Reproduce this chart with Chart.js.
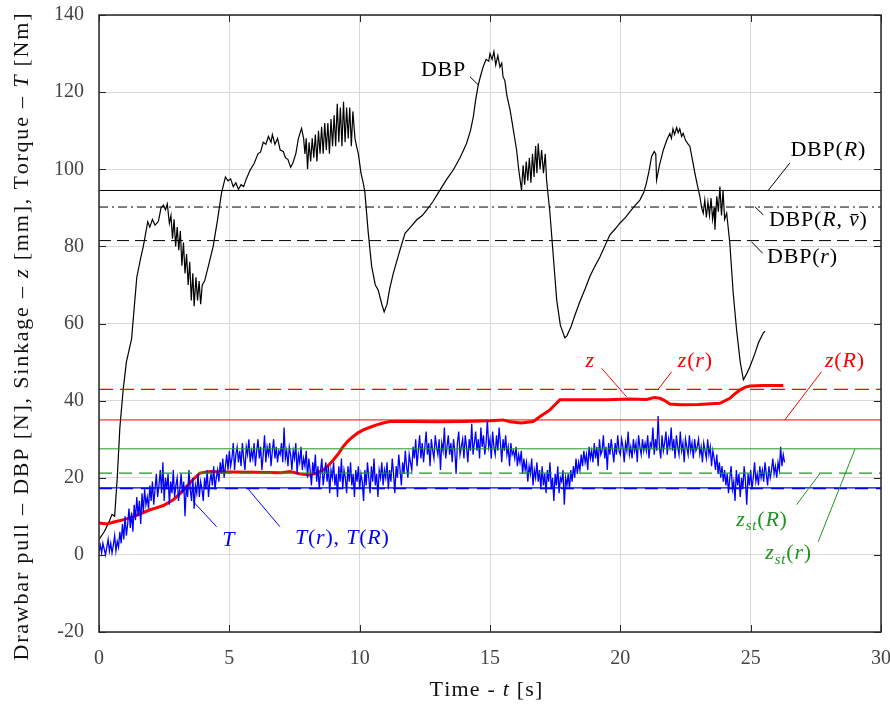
<!DOCTYPE html>
<html>
<head>
<meta charset="utf-8">
<script src="https://cdn.jsdelivr.net/npm/chart.js@4.4.1/dist/chart.umd.min.js"></script>
<style>
  html, body { margin: 0; padding: 0; background: #fff; }
</style>
</head>
<body>
<canvas id="chart" width="890" height="709"></canvas>
<script>
// axis ticks
const X_TICKS = [0, 5, 10, 15, 20, 25, 30];
const Y_TICKS = [-20, 0, 20, 40, 60, 80, 100, 120, 140];

// drawbar pull DBP [N]
const DBP_TIME = [
  0, 0.2, 0.35, 0.5, 0.6, 0.7, 0.8, 0.93, 1.05, 1.25, 1.45, 1.6, 1.7, 1.87, 1.95, 2.05, 2.15, 2.28, 2.38, 2.47,
  2.55, 2.62, 2.7, 2.76, 2.82, 2.88, 2.94, 3.0, 3.06, 3.12, 3.18, 3.24, 3.3, 3.36, 3.42, 3.48, 3.54, 3.6, 3.65, 3.72,
  3.78, 3.84, 3.9, 3.96, 4.05, 4.2, 4.38, 4.55, 4.7, 4.85, 4.95, 5.05, 5.15, 5.25, 5.35, 5.45, 5.55, 5.65, 5.8, 5.95,
  6.1, 6.2, 6.3, 6.4, 6.5, 6.6, 6.65, 6.75, 6.85, 6.95, 7.07, 7.15, 7.25, 7.35, 7.43, 7.55, 7.65, 7.77, 7.85, 7.9,
  7.95, 8.0, 8.06, 8.12, 8.18, 8.24, 8.3, 8.36, 8.42, 8.48, 8.54, 8.6, 8.66, 8.72, 8.78, 8.84, 8.9, 8.96, 9.02, 9.08,
  9.14, 9.2, 9.26, 9.32, 9.38, 9.44, 9.5, 9.56, 9.62, 9.68, 9.74, 9.82, 9.88, 9.95, 10.05, 10.15, 10.2, 10.33, 10.46, 10.6,
  10.71, 10.85, 10.94, 11.05, 11.15, 11.29, 11.5, 11.74, 11.95, 12.19, 12.4, 12.57, 12.8, 13.08, 13.35, 13.59, 13.85, 14.1, 14.25, 14.36,
  14.45, 14.55, 14.65, 14.74, 14.85, 14.95, 15.0, 15.08, 15.15, 15.22, 15.3, 15.38, 15.45, 15.5, 15.57, 15.65, 15.77, 15.9, 16.02, 16.1,
  16.21, 16.27, 16.33, 16.39, 16.45, 16.51, 16.57, 16.63, 16.69, 16.75, 16.8, 16.85, 16.92, 16.98, 17.05, 17.12, 17.17, 17.3, 17.43, 17.56,
  17.7, 17.87, 17.95, 18.1, 18.25, 18.45, 18.65, 18.83, 19.0, 19.22, 19.4, 19.6, 19.8, 19.98, 20.2, 20.37, 20.55, 20.75, 20.9, 21.0,
  21.1, 21.2, 21.3, 21.36, 21.39, 21.5, 21.65, 21.78, 21.9, 21.96, 22.02, 22.08, 22.16, 22.22, 22.28, 22.35, 22.41, 22.5, 22.6, 22.67,
  22.75, 22.86, 22.95, 23.05, 23.12, 23.18, 23.24, 23.3, 23.36, 23.42, 23.48, 23.54, 23.6, 23.63, 23.7, 23.76, 23.82, 23.88, 23.94, 24.0,
  24.08, 24.2, 24.33, 24.46, 24.6, 24.72, 24.85, 24.97, 25.15, 25.3, 25.48, 25.55
];
const DBP_VALUE = [
  4, 6, 8, 10.5, 10, 20, 33, 43, 50, 56, 72, 77, 80, 86.4, 85, 87, 85.5, 86.5, 90, 90.7,
  89.5, 91, 86, 88, 82, 87, 80, 85, 79, 84, 75, 81, 73, 78, 70, 76, 66, 73, 64.5, 72,
  66, 71, 65, 70, 71, 75, 80, 87, 93.8, 98, 97, 97.5, 95.5, 96.5, 94.8, 96, 95.5, 97.5, 99.8, 101.5,
  104, 104.5, 107, 106.5, 108.5, 107, 109, 106.5, 108, 105, 104.6, 103, 102.5, 100.5, 101.5, 104, 108, 110.6, 108, 104,
  108, 100, 107, 102, 108, 103, 109, 102, 110, 104, 111, 104, 112, 105, 112, 104, 113, 106, 114, 106,
  117, 107, 116, 106, 117.5, 107, 116, 108, 116, 106, 115, 108, 106, 104, 99, 96, 94, 83.5, 74.8, 70,
  68.7, 65, 63, 65, 69, 73, 78, 83.4, 85, 86.9, 88, 89.4, 91.5, 94.6, 97.5, 99.8, 103, 106.7, 110, 113.6,
  118, 121.9, 124.5, 126.6, 128.5, 128, 130, 128.5, 130.5, 127, 129.5, 126.5, 127.5, 124, 123, 119, 115.4, 110, 105, 100,
  94.6, 101, 96, 102, 97, 103, 96.5, 104, 98, 106, 99, 106.7, 100, 105, 99, 104, 97.2, 88.6, 77.3, 66,
  59.5, 56.3, 56.8, 59, 62, 65.7, 69, 72.2, 74.5, 77.3, 80, 83, 84.5, 86, 87.5, 89, 90.5, 92, 94, 96.4,
  99.5, 103.3, 104.6, 104, 97.2, 101, 105, 107.5, 109.3, 108, 110.5, 109, 110.8, 109.5, 110.5, 108.5, 109.3, 107.5, 106.5, 105.9,
  103, 99, 96, 93, 90, 88.6, 92, 87.5, 91.5, 88, 92.5, 87, 90, 84.3, 93, 89, 95.5, 88, 94.5, 87,
  88.6, 80.8, 67.9, 58.3, 50, 45.4, 47, 48.8, 52, 55, 57.5, 58
];

// sinkage z [mm]
const Z_TIME = [
  0, 0.3, 0.61, 1.0, 1.32, 1.65, 1.96, 2.2, 2.47, 2.85, 3.1, 3.36, 3.6, 3.87, 4.26, 5, 6, 7, 7.33, 7.7,
  8.09, 8.35, 8.6, 8.8, 8.99, 9.2, 9.37, 9.55, 9.75, 9.95, 10.14, 10.4, 10.65, 10.9, 11.16, 12, 13, 14, 15, 15.5,
  15.77, 16.2, 16.66, 16.95, 17.3, 17.5, 17.68, 18.45, 19.5, 20.37, 21.0, 21.3, 21.52, 21.7, 21.9, 22.3, 23, 23.82, 24.2, 24.4,
  24.6, 24.8, 24.97, 25.5, 26.25
];
const Z_VALUE = [
  8.3, 8.0, 8.6, 9.2, 9.9, 10.8, 11.7, 12.2, 12.8, 14.3, 15.8, 17.7, 19.5, 21.2, 21.6, 21.5, 21.4, 21.3, 21.6, 21.0,
  20.7, 21.2, 22.0, 23.2, 24.6, 26.4, 28.1, 29.5, 30.7, 31.7, 32.4, 33.1, 33.7, 34.2, 34.6, 34.6, 34.5, 34.6, 34.8, 35.0,
  34.5, 34.2, 34.6, 36, 37.6, 39, 40.2, 40.2, 40.2, 40.4, 40.3, 40.8, 40.6, 40, 39.1, 38.9, 39, 39.3, 40.6, 41.8,
  42.8, 43.5, 43.8, 43.9, 43.9
];

// torque T [Nm], one value every TORQUE_DT seconds from t = 0 (one row per second)
const TORQUE_DT = 0.05;
const TORQUE_VALUE = [
  1, 2.5, 0.5, 3, 1.5, 0, 2, 4, 1, 3, 0.5, 2.5, 5, 1, 3.5, 2, 6, 3, 8, 4,
  10, 5, 8, 12, 7, 11, 6, 13, 9, 15, 10, 14, 8, 16, 11, 17, 13, 15, 12, 18,
  14, 19, 13, 17, 21, 15, 18, 22, 16, 24, 14, 20, 17, 21, 13, 19, 16, 22, 15, 18,
  20, 14, 17, 21, 16, 19, 10, 18, 15, 22, 17, 14, 20, 12, 18, 16, 21, 15, 19, 17,
  14, 20, 17, 22, 15, 19, 21, 18, 23, 17, 20, 22, 19, 24, 21, 25, 20, 23, 26, 22,
  27, 23, 25, 29, 22, 26, 28, 24, 27, 23, 29, 25, 22, 28, 26, 30, 24, 27, 25, 29,
  23, 27, 30, 25, 28, 22, 26, 31, 24, 28, 26, 29, 23, 27, 30, 25, 28, 24, 27, 26,
  29, 24, 33, 25, 27, 23, 28, 26, 22, 27, 25, 29, 21, 26, 24, 28, 22, 25, 23, 27,
  20, 25, 22, 18, 24, 21, 26, 19, 23, 17, 22, 25, 18, 21, 24, 19, 23, 16, 22, 20,
  24, 18, 21, 15, 23, 19, 25, 17, 22, 20, 16, 23, 19, 24, 18, 21, 15, 22, 19, 23,
  17, 21, 19, 14, 22, 18, 24, 20, 16, 23, 19, 25, 18, 21, 15, 22, 20, 24, 18, 22,
  20, 24, 17, 22, 19, 25, 21, 16, 23, 20, 26, 22, 18, 24, 21, 27, 23, 20, 26, 24,
  22, 28, 25, 30, 23, 27, 31, 25, 29, 24, 28, 32, 26, 29, 23, 30, 27, 25, 31, 28,
  26, 30, 22, 29, 27, 33, 25, 28, 31, 26, 29, 24, 30, 27, 21, 29, 32, 26, 28, 30,
  25, 31, 28, 24, 30, 27, 34, 26, 29, 32, 27, 30, 25, 33, 28, 31, 26, 29, 35, 28,
  30, 25, 32, 28, 26, 31, 27, 33, 29, 24, 30, 27, 31, 26, 28, 23, 29, 26, 27, 25,
  28, 23, 26, 24, 27, 21, 25, 22, 24, 19, 23, 21, 25, 18, 22, 20, 24, 19, 22, 17,
  23, 18, 21, 16, 22, 19, 24, 17, 20, 14, 21, 18, 23, 16, 20, 19, 22, 13, 20, 18,
  21, 17, 22, 19, 23, 20, 25, 21, 24, 22, 26, 23, 27, 24, 26, 22, 28, 25, 27, 24,
  29, 25, 28, 23, 30, 26, 27, 31, 25, 28, 22, 29, 26, 30, 27, 24, 29, 26, 31, 27,
  26, 30, 28, 24, 29, 27, 32, 26, 28, 25, 30, 27, 29, 24, 31, 28, 26, 30, 27, 29,
  27, 31, 25, 29, 28, 33, 26, 30, 27, 36, 28, 25, 31, 27, 29, 32, 26, 30, 28, 33,
  27, 30, 25, 31, 28, 26, 32, 27, 29, 24, 30, 28, 26, 31, 27, 29, 25, 30, 27, 28,
  30, 26, 28, 24, 29, 27, 25, 30, 26, 28, 23, 27, 25, 22, 26, 21, 24, 20, 23, 19,
  22, 18, 21, 16, 20, 23, 17, 19, 14, 22, 18, 21, 15, 20, 17, 23, 19, 13, 21, 18,
  22, 17, 20, 24, 19, 21, 18, 23, 20, 22, 19, 24, 21, 18, 23, 20, 22, 25, 21, 23,
  20, 24, 22, 28, 23, 26, 24
];

// predicted levels
const DBP_LEVELS = [94.5, 90.2, 81.5];   // DBP(R), DBP(R, v̄), DBP(r)
const Z_LEVELS = [35.0, 42.9];           // z(R), z(r)
const ZST_LEVELS = [21.2, 27.5];         // z_st(R), z_st(r)
const T_LEVELS = [17.4, 17.2];           // T(R), T(r)

const RED = "#ff0000";
const GREEN = "#1f961f";
const BLUE = "#0000ff";
const SERIF = '"Liberation Serif", "DejaVu Serif", serif';

function pairs(times, values) {
  return values.map((v, i) => ({ x: times[i], y: v }));
}

function levelLine(y, color, dash, width) {
  return {
    data: [{ x: 0, y }, { x: 30, y }],
    borderColor: color,
    borderWidth: width || 1,
    borderDash: dash || [],
    pointRadius: 0,
    order: 0,
  };
}

const torqueData = TORQUE_VALUE.map((v, i) => ({ x: +(i * TORQUE_DT).toFixed(2), y: v }));

// text labels with leader lines, in data coordinates
const LABELS = [
  { segs: [["DBP", "r"]], color: "#000", at: [13.2, 125.8], from: [14.23, 124], to: [14.55, 121.9] },
  { segs: [["DBP(", "r"], ["R", "i"], [")", "r"]], color: "#000", at: [27.96, 105.0], from: [26.5, 101.6], to: [25.67, 94.5] },
  { segs: [["DBP(", "r"], ["R", "i"], [", ", "r"], ["v\u0304", "i"], [")", "r"]], color: "#000", at: [27.58, 86.9], from: [25.48, 88.2], to: [25.16, 90.3] },
  { segs: [["DBP(", "r"], ["r", "i"], [")", "r"]], color: "#000", at: [26.97, 77.3], from: [25.46, 78.2], to: [25.03, 81.2] },
  { segs: [["z", "i"]], color: RED, at: [18.83, 50.1], from: [19.28, 48.4], to: [20.24, 41.0] },
  { segs: [["z", "i"], ["(", "r"], ["r", "i"], [")", "r"]], color: RED, at: [22.86, 50.1], from: [21.97, 47.5], to: [21.46, 43.0] },
  { segs: [["z", "i"], ["(", "r"], ["R", "i"], [")", "r"]], color: RED, at: [28.6, 50.1], from: [27.72, 47.5], to: [26.31, 35.0] },
  { segs: [["z", "i"], ["st", "sub"], ["(", "r"], ["R", "i"], [")", "r"]], color: GREEN, at: [25.42, 9.1], from: [26.76, 13.0], to: [27.65, 21.0] },
  { segs: [["z", "i"], ["st", "sub"], ["(", "r"], ["r", "i"], [")", "r"]], color: GREEN, at: [26.44, 0.4], from: [27.59, 3.4], to: [29.0, 27.4] },
  { segs: [["T", "i"]], color: BLUE, at: [4.96, 3.9], from: [4.51, 7.3], to: [3.62, 13.8] },
  { segs: [["T", "i"], ["(", "r"], ["r", "i"], ["), ", "r"], ["T", "i"], ["(", "r"], ["R", "i"], [")", "r"]], color: BLUE, at: [9.32, 4.4], from: [6.94, 7.3], to: [5.73, 17.0] },
];

function segFont(kind, size) {
  if (kind === "i") return `italic ${size}px ${SERIF}`;
  if (kind === "sub") return `italic ${Math.round(size * 0.7)}px ${SERIF}`;
  return `${size}px ${SERIF}`;
}

// split into characters, keeping combining marks with their base letter
function glyphs(text) {
  const out = [];
  Array.from(text).forEach((ch) => {
    if (/[\u0300-\u036f]/.test(ch) && out.length) out[out.length - 1] += ch;
    else out.push(ch);
  });
  return out;
}

// mixed roman / italic text centred on (cx, cy), with extra letter spacing
function drawRich(ctx, segs, cx, cy, size, color, spacing) {
  const ls = spacing || 0;
  ctx.save();
  ctx.fillStyle = color;
  ctx.textBaseline = "middle";
  ctx.textAlign = "left";
  let w = 0;
  segs.forEach(([t, k]) => {
    ctx.font = segFont(k, size);
    glyphs(t).forEach((g) => { w += ctx.measureText(g).width + ls; });
  });
  w -= ls;
  let x = cx - w / 2;
  segs.forEach(([t, k]) => {
    ctx.font = segFont(k, size);
    glyphs(t).forEach((g) => {
      ctx.fillText(g, x, k === "sub" ? cy + size * 0.3 : cy);
      x += ctx.measureText(g).width + ls;
    });
  });
  ctx.restore();
}

const decorations = {
  id: "decorations",
  afterDatasetsDraw(chart) {
    const { ctx, chartArea: a, scales } = chart;
    ctx.save();
    ctx.strokeStyle = "#262626";
    ctx.lineWidth = 1.5;
    ctx.strokeRect(a.left, a.top, a.right - a.left, a.bottom - a.top);
    ctx.lineWidth = 1;
    ctx.beginPath();
    X_TICKS.forEach((t) => {
      const px = Math.round(scales.x.getPixelForValue(t)) + 0.5;
      ctx.moveTo(px, a.bottom); ctx.lineTo(px, a.bottom - 7);
      ctx.moveTo(px, a.top); ctx.lineTo(px, a.top + 7);
    });
    Y_TICKS.forEach((t) => {
      const py = Math.round(scales.y.getPixelForValue(t)) + 0.5;
      ctx.moveTo(a.left, py); ctx.lineTo(a.left + 7, py);
      ctx.moveTo(a.right, py); ctx.lineTo(a.right - 7, py);
    });
    ctx.stroke();
    ctx.restore();
  },
  afterDraw(chart) {
    const { ctx, scales } = chart;
    const px = (p) => [scales.x.getPixelForValue(p[0]), scales.y.getPixelForValue(p[1])];
    LABELS.forEach((l) => {
      const [x1, y1] = px(l.from);
      const [x2, y2] = px(l.to);
      ctx.save();
      ctx.strokeStyle = l.color;
      ctx.lineWidth = 1;
      ctx.beginPath();
      ctx.moveTo(x1, y1); ctx.lineTo(x2, y2);
      ctx.stroke();
      ctx.restore();
      const [cx, cy] = px(l.at);
      drawRich(ctx, l.segs, cx, cy, 22, l.color, 0.8);
    });

    // axis titles
    drawRich(ctx, [["Time - ", "r"], ["t", "i"], [" [s]", "r"]], 486, 690, 22, "#111", 1.2);
    ctx.save();
    ctx.translate(22, 337);
    ctx.rotate(-Math.PI / 2);
    drawRich(ctx, [["Drawbar pull \u2013 DBP [N], Sinkage \u2013 ", "r"], ["z", "i"], [" [mm], Torque \u2013 ", "r"], ["T", "i"], [" [Nm]", "r"]], 0, 0, 22, "#111", 1.8);
    ctx.restore();
  },
};

new Chart(document.getElementById("chart"), {
  type: "line",
  data: {
    datasets: [
      levelLine(DBP_LEVELS[0], "#000", [], 1),
      levelLine(DBP_LEVELS[1], "#000", [9, 4, 2, 4], 1),
      levelLine(DBP_LEVELS[2], "#000", [12, 6], 1),
      levelLine(Z_LEVELS[0], RED, [], 1),
      levelLine(Z_LEVELS[1], RED, [14, 7], 1.2),
      levelLine(ZST_LEVELS[0], GREEN, [13, 7], 1.2),
      levelLine(ZST_LEVELS[1], GREEN, [], 1),
      levelLine(T_LEVELS[0], BLUE, [], 1.2),
      levelLine(T_LEVELS[1], BLUE, [13, 8], 1.5),
      { data: torqueData, borderColor: BLUE, borderWidth: 1.3, pointRadius: 0, order: 1 },
      { data: pairs(Z_TIME, Z_VALUE), borderColor: RED, borderWidth: 3, pointRadius: 0, order: 2 },
      { data: pairs(DBP_TIME, DBP_VALUE), borderColor: "#000", borderWidth: 1.2, pointRadius: 0, order: 3 },
    ],
  },
  options: {
    responsive: false,
    animation: false,
    layout: { padding: { top: 15, right: 9, left: 0, bottom: 0 } },
    plugins: { legend: { display: false }, tooltip: { enabled: false } },
    elements: { line: { tension: 0, fill: false } },
    scales: {
      x: {
        type: "linear",
        min: 0,
        max: 30,
        afterBuildTicks: (s) => { s.ticks = X_TICKS.map((v) => ({ value: v })); },
        afterFit: (s) => { s.height = 77; s.paddingLeft = 0; s.paddingRight = 0; },
        grid: { color: "#d9d9d9", drawTicks: false },
        border: { display: false },
        ticks: { padding: 15, color: "#444", font: { family: SERIF, size: 20 } },
      },
      y: {
        type: "linear",
        min: -20,
        max: 140,
        afterBuildTicks: (s) => { s.ticks = Y_TICKS.map((v) => ({ value: v })); },
        afterFit: (s) => { s.width = 99; s.paddingTop = 0; s.paddingBottom = 0; },
        grid: { color: "#d9d9d9", drawTicks: false },
        border: { display: false },
        ticks: { padding: 15, color: "#444", font: { family: SERIF, size: 20 } },
      },
    },
  },
  plugins: [decorations],
});
</script>
</body>
</html>
